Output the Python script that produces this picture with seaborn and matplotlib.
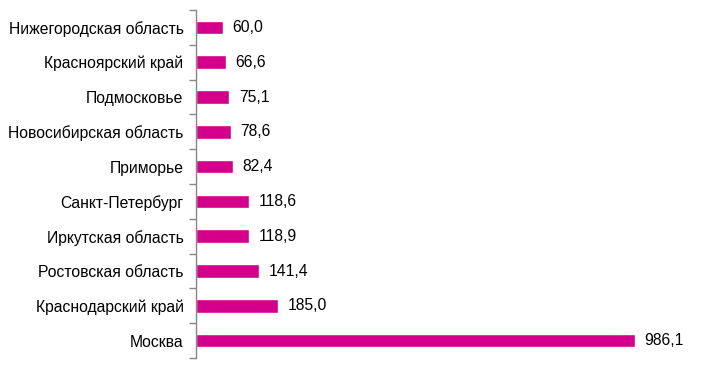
import matplotlib
matplotlib.use("Agg")
import matplotlib.pyplot as plt
import seaborn as sns
import numpy as np
import pandas as pd

regions = ["Нижегородская область", "Красноярский край", "Подмосковье",
           "Новосибирская область", "Приморье", "Санкт-Петербург",
           "Иркутская область", "Ростовская область", "Краснодарский край",
           "Москва"]
values = [60.0, 66.6, 75.1, 78.6, 82.4, 118.6, 118.9, 141.4, 185.0, 986.1]

sns.set_style("white")
plt.rcParams['font.family'] = ['Liberation Sans', 'DejaVu Sans']
plt.rcParams['text.color'] = 'black'
plt.rcParams['ytick.labelcolor'] = 'black'

df = pd.DataFrame({"region": regions, "value": values})

fig = plt.figure(figsize=(7.19, 3.66), dpi=100)
ax = fig.add_axes([196 / 719, 8 / 366, 505 / 719, 348 / 366])

sns.barplot(data=df, x="value", y="region", orient="h", color="#D4008C",
            saturation=1, width=0.39, ax=ax)

labels = [f"{v:.1f}".replace(".", ",") for v in values]
ax.bar_label(ax.containers[0], labels=labels, padding=7, fontsize=11.3,
             color="black")

ax.set_xlim(0, 1135)
ax.set_ylim(len(regions) - 0.5, -0.5)
ax.set_xlabel("")
ax.set_ylabel("")
ax.set_xticks([])

# category labels without marks, tick marks on boundaries
ax.set_yticks(np.arange(len(regions)), labels=regions, minor=True)
ax.set_yticks(np.arange(-0.5, len(regions)), labels=[])
ax.tick_params(axis="y", which="minor", length=0, labelsize=11.3, pad=9,
               labelcolor="black")
ax.tick_params(axis="y", which="major", length=5, width=1, color="#868686",
               direction="out", left=True)

for s in ["top", "right", "bottom"]:
    ax.spines[s].set_visible(False)
ax.spines["left"].set_color("#868686")
ax.spines["left"].set_linewidth(1)

fig.savefig("out.png", dpi=100)
